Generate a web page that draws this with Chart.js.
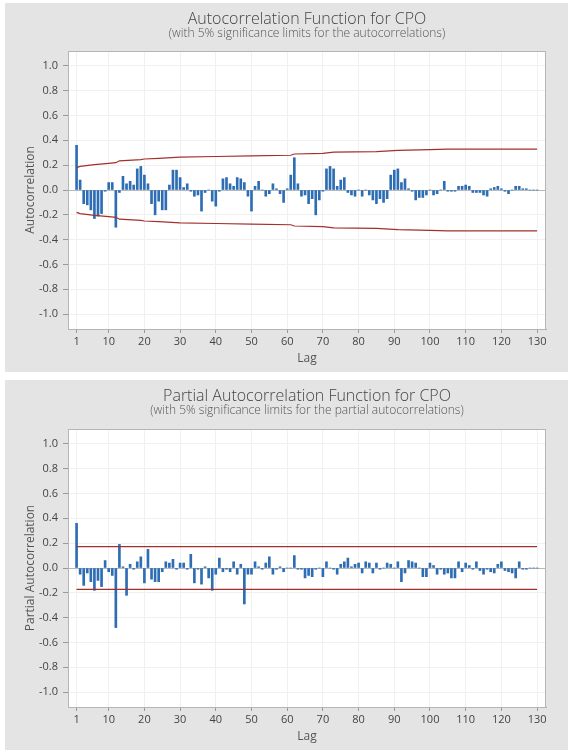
<!DOCTYPE html>
<html lang="en">
<head>
  <meta charset="UTF-8">
  <title>ACF / PACF for CPO</title>
  <script src="https://cdn.jsdelivr.net/npm/chart.js"></script>
  <style>
    body {
      margin: 0;
      background: #fff;
      width: 568px;
      height: 750px;
      position: relative;
      overflow: hidden;
      font-family: 'Open Sans', sans-serif;
    }
    .panel {
      position: absolute;
      left: 5px;
      width: 563px;
      background: #e4e4e4;
    }
    #acfPanel { top: 3px; height: 369px; }
    #pacfPanel { top: 380px; height: 370px; }
    canvas { display: block; }
  </style>
</head>
<body>
  <div class="panel" id="acfPanel"><canvas id="acfChart" width="563" height="369"></canvas></div>
  <div class="panel" id="pacfPanel"><canvas id="pacfChart" width="563" height="370"></canvas></div>
<script>
  // lag 1..130
  const lags = Array.from({ length: 130 }, (_, i) => i + 1);
  const xTicks = [1, 10, 20, 30, 40, 50, 60, 70, 80, 90, 100, 110, 120, 130];
  const yTicks = [-1.0, -0.8, -0.6, -0.4, -0.2, 0.0, 0.2, 0.4, 0.6, 0.8, 1.0];

  const acfValues = [
    0.36, 0.08, -0.11, -0.12, -0.16, -0.23, -0.21, -0.19, -0.01, 0.06,
    0.06, -0.30, -0.02, 0.11, 0.05, 0.07, 0.04, 0.17, 0.19, 0.12,
    0.05, -0.11, -0.20, -0.09, -0.16, -0.16, 0.04, 0.16, 0.16, 0.10,
    0.02, 0.05, -0.01, -0.05, -0.04, -0.17, -0.02, 0.00, -0.09, -0.13,
    -0.01, 0.09, 0.10, 0.05, 0.03, 0.10, 0.09, 0.06, -0.05, -0.17,
    0.03, 0.07, 0.00, -0.05, -0.03, 0.05, 0.01, -0.03, -0.10, 0.01,
    0.12, 0.26, 0.05, -0.05, -0.04, -0.11, -0.07, -0.20, -0.08, -0.01,
    0.17, 0.19, 0.17, 0.03, 0.08, 0.10, -0.02, -0.04, -0.05, 0.00,
    -0.05, 0.00, -0.04, -0.08, -0.11, -0.07, -0.10, -0.07, 0.12, 0.16,
    0.17, 0.06, 0.09, 0.01, -0.01, -0.08, -0.06, -0.06, -0.04, 0.00,
    -0.04, -0.03, 0.00, 0.07, -0.01, -0.01, -0.01, 0.03, 0.03, 0.04,
    0.03, -0.02, -0.02, -0.02, -0.04, -0.05, 0.01, 0.02, 0.03, 0.01,
    -0.01, -0.03, 0.00, 0.03, 0.03, 0.01, 0.01, 0.00, 0.00, 0.00
  ];

  const pacfValues = [
    0.36, -0.05, -0.14, -0.04, -0.11, -0.18, -0.10, -0.15, 0.06, -0.03,
    -0.06, -0.48, 0.19, 0.01, -0.22, 0.03, -0.01, 0.05, 0.09, -0.12,
    0.15, -0.09, -0.11, -0.11, -0.03, 0.05, 0.04, 0.07, -0.01, 0.04,
    0.04, -0.01, 0.11, -0.12, -0.01, -0.13, 0.01, -0.08, -0.18, -0.05,
    0.08, -0.03, -0.01, -0.03, 0.05, -0.05, 0.03, -0.29, -0.05, -0.05,
    0.05, 0.01, -0.01, 0.04, 0.09, -0.05, -0.01, 0.01, -0.03, 0.00,
    0.00, 0.10, -0.01, -0.01, -0.08, -0.06, -0.07, -0.01, 0.00, -0.07,
    0.05, 0.00, -0.01, -0.05, 0.03, 0.05, 0.08, 0.01, 0.03, 0.04,
    -0.04, 0.05, 0.04, -0.04, 0.04, -0.01, 0.00, 0.04, 0.03, 0.00,
    0.05, -0.11, -0.04, 0.06, 0.05, 0.04, 0.00, -0.07, -0.07, 0.04,
    0.02, -0.05, -0.01, -0.05, -0.04, -0.08, -0.08, 0.05, -0.03, 0.04,
    0.02, -0.01, 0.05, -0.02, -0.05, -0.01, -0.03, -0.04, 0.03, 0.05,
    -0.02, -0.03, -0.04, -0.08, 0.05, -0.01, -0.01, 0.00, 0.00, 0.00
  ];

  // 5% significance limits
  const acfLimitLags  = [1, 2, 6, 10, 12, 13, 19, 20, 24, 30, 40, 50, 61, 62, 70, 73, 85, 91, 100, 105, 130];
  const acfUpperLimit = [0.18, 0.19, 0.205, 0.215, 0.22, 0.235, 0.245, 0.25, 0.255, 0.265, 0.27, 0.275, 0.28, 0.29, 0.295, 0.305, 0.31, 0.32, 0.325, 0.33, 0.33];
  const acfLowerLimit = [-0.18, -0.19, -0.205, -0.215, -0.22, -0.235, -0.245, -0.25, -0.255, -0.265, -0.27, -0.275, -0.28, -0.29, -0.295, -0.305, -0.31, -0.32, -0.325, -0.33, -0.33];

  const pacfLimitLags  = [1, 130];
  const pacfUpperLimit = [0.172, 0.172];
  const pacfLowerLimit = [-0.172, -0.172];

  const plotBox = {
    id: 'plotBox',
    beforeDraw(chart) {
      const a = chart.chartArea, c = chart.ctx;
      c.save();
      c.fillStyle = '#fff';
      c.fillRect(a.left, a.top, a.right - a.left, a.bottom - a.top);
      c.restore();
    },
    afterDraw(chart) {
      const a = chart.chartArea, c = chart.ctx;
      c.save();
      c.strokeStyle = '#b5b5b5';
      c.lineWidth = 1;
      c.strokeRect(a.left + 0.5, a.top + 0.5, a.right - a.left - 1, a.bottom - a.top);
      c.restore();
    }
  };

  const fontFamily = "'Open Sans', sans-serif";

  function makeChart(id, title, subtitle, yLabel, values, limLags, upper, lower, gap) {
    const ctx = document.getElementById(id).getContext('2d');
    return new Chart(ctx, {
      type: 'bar',
      data: {
        datasets: [
          {
            type: 'line',
            data: limLags.map((l, i) => ({ x: l, y: upper[i] })),
            borderColor: '#a3302b',
            borderWidth: 1.2,
            pointRadius: 0,
            tension: 0,
            order: 1
          },
          {
            type: 'line',
            data: limLags.map((l, i) => ({ x: l, y: lower[i] })),
            borderColor: '#a3302b',
            borderWidth: 1.2,
            pointRadius: 0,
            tension: 0,
            order: 1
          },
          {
            type: 'bar',
            data: lags.map((l, i) => ({ x: l, y: values[i] })),
            backgroundColor: '#2d6db4',
            barThickness: 2,
            grouped: false,
            order: 2
          }
        ]
      },
      options: {
        responsive: false,
        animation: false,
        layout: { padding: { top: 0, right: 22, bottom: 0, left: 0 } },
        plugins: {
          legend: { display: false },
          tooltip: { enabled: false },
          title: {
            display: true,
            text: title,
            fullSize: false,
            color: '#444',
            font: { family: fontFamily, size: 16, weight: 300, lineHeight: 1.0 },
            padding: { top: 8, bottom: 0 }
          },
          subtitle: {
            display: true,
            text: subtitle,
            fullSize: false,
            color: '#555',
            font: { family: fontFamily, size: 12, weight: 300, lineHeight: 1.1 },
            padding: { top: 0, bottom: gap }
          }
        },
        scales: {
          x: {
            type: 'linear',
            offset: false,
            min: -1.4,
            max: 132.5,
            afterBuildTicks: s => { s.ticks = xTicks.map(v => ({ value: v })); },
            afterFit: s => { s.height = 43; },
            ticks: { font: { family: fontFamily, size: 11 }, color: '#444', padding: 2, maxRotation: 0, autoSkip: false },
            grid: { offset: false, color: '#f0f0f0', tickColor: '#999', tickLength: 4 },
            border: { color: '#aaa' },
            title: { display: true, text: 'Lag', color: '#555', font: { family: fontFamily, size: 12 }, padding: { top: 0, bottom: 6 } }
          },
          y: {
            min: -1.12,
            max: 1.12,
            afterBuildTicks: s => { s.ticks = yTicks.map(v => ({ value: v })); },
            afterFit: s => { s.width = 63; },
            ticks: { font: { family: fontFamily, size: 11 }, color: '#444', padding: 5, callback: v => v.toFixed(1) },
            grid: {
              color: c => (c.tick && c.tick.value === 0) ? '#b8b8b8' : '#f0f0f0',
              tickColor: '#999',
              tickLength: 5
            },
            border: { color: '#aaa' },
            title: { display: true, text: yLabel, color: '#555', font: { family: fontFamily, size: 12 }, padding: { top: 18, bottom: 0 } }
          }
        }
      },
      plugins: [plotBox]
    });
  }

  makeChart('acfChart', 'Autocorrelation Function for CPO',
    '(with 5% significance limits for the autocorrelations)',
    'Autocorrelation', acfValues, acfLimitLags, acfUpperLimit, acfLowerLimit, 10.8);

  makeChart('pacfChart', 'Partial Autocorrelation Function for CPO',
    '(with 5% significance limits for the partial autocorrelations)',
    'Partial Autocorrelation', pacfValues, pacfLimitLags, pacfUpperLimit, pacfLowerLimit, 11.8);
</script>
</body>
</html>
